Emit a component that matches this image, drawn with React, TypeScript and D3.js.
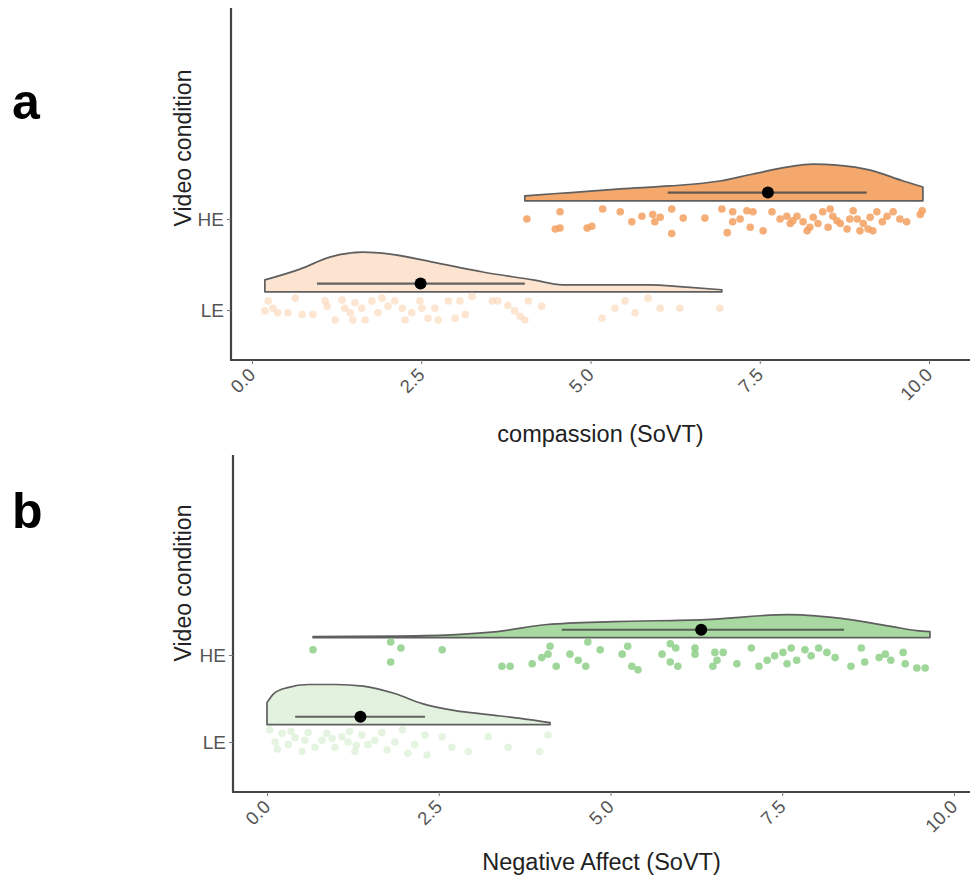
import React, { useEffect, useRef } from 'react'
import * as d3 from 'd3'

const conditions = ['HE', 'LE']
const xTicks = [0, 2.5, 5, 7.5, 10]

// panel a: compassion — raw points [score, jitter]
const compPointsHE = [
  [4.06, 0.0], [4.55, -0.08], [4.48, 0.11], [4.55, 0.1], [4.95, 0.1], [5.02, 0.08], [5.18, -0.11], [5.44, -0.08],
  [5.61, 0.03], [5.76, -0.03], [5.92, -0.05], [5.95, 0.03], [6.03, -0.02], [6.2, -0.11], [6.2, 0.16], [6.37, -0.01],
  [6.69, -0.01], [6.94, -0.11], [7.02, 0.15], [7.1, 0.03], [7.1, -0.08], [7.21, 0.0], [7.31, -0.09], [7.4, -0.08],
  [7.36, 0.09], [7.55, 0.13], [7.68, -0.08], [7.8, 0.0], [7.9, -0.03], [7.95, 0.05], [7.99, 0.02], [8.05, -0.03],
  [8.14, 0.03], [8.2, 0.13], [8.24, 0.09], [8.29, -0.02], [8.36, 0.05], [8.43, -0.08], [8.51, 0.09], [8.54, -0.11],
  [8.58, -0.03], [8.64, 0.02], [8.69, 0.05], [8.79, 0.11], [8.83, 0.0], [8.88, -0.09], [8.94, 0.0], [8.98, 0.13],
  [9.03, 0.05], [9.1, 0.11], [9.13, -0.02], [9.17, 0.13], [9.23, -0.08], [9.31, 0.03], [9.38, -0.03], [9.47, -0.08],
  [9.57, 0.0], [9.67, 0.03], [9.87, -0.05], [9.9, -0.09],
]
const compPointsLE = [
  [0.24, -0.1], [0.31, -0.02], [0.38, 0.03], [0.19, 0.01], [0.53, 0.03], [0.64, -0.13], [0.74, 0.05], [0.9, 0.05],
  [1.08, -0.1], [1.11, -0.04], [1.23, 0.11], [1.33, -0.11], [1.37, -0.02], [1.45, 0.03], [1.49, 0.11], [1.52, -0.08],
  [1.62, -0.02], [1.67, 0.11], [1.77, -0.1], [1.86, 0.03], [1.92, -0.13], [2.01, -0.04], [2.11, -0.1], [2.22, -0.02],
  [2.26, 0.11], [2.36, 0.03], [2.48, -0.1], [2.51, -0.02], [2.6, 0.09], [2.7, -0.02], [2.75, 0.11], [2.9, -0.1],
  [3.0, 0.09], [3.07, -0.1], [3.15, 0.05], [3.25, -0.15], [3.55, -0.1], [3.63, -0.1], [3.78, -0.05], [3.88, 0.01],
  [3.96, 0.07], [4.03, 0.11], [4.08, -0.1], [4.28, -0.04], [5.17, 0.09], [5.36, -0.02], [5.51, -0.1], [5.66, 0.03],
  [5.85, -0.13], [6.03, -0.02], [6.32, -0.02], [6.91, -0.02],
]
// density outlines [score, density]
const compDensHE = [
  [4.03, 0.034], [4.5, 0.05], [5.0, 0.066], [5.44, 0.082], [6.17, 0.102], [6.91, 0.136], [7.4, 0.184], [7.9, 0.231],
  [8.29, 0.252], [8.64, 0.245], [9.13, 0.211], [9.62, 0.136], [9.91, 0.095],
]
const compDensLE = [
  [0.19, 0.082], [0.71, 0.156], [1.15, 0.238], [1.64, 0.272], [2.04, 0.259], [2.67, 0.204], [3.41, 0.136],
  [4.15, 0.082], [4.59, 0.048], [5.14, 0.048], [5.88, 0.048], [6.37, 0.034], [6.94, 0.014],
]
// [lower, mean, upper]
const compMeanHE = [6.14, 7.62, 9.08]
const compMeanLE = [0.96, 2.49, 4.03]

// panel b: negative affect
const negPointsHE = [
  [0.67, -0.06], [1.8, -0.15], [1.95, -0.08], [1.8, 0.08], [2.55, -0.06], [3.42, 0.13], [3.54, 0.13], [3.86, 0.1],
  [4.0, 0.03], [4.09, -0.01], [4.12, -0.1], [4.21, 0.13], [4.41, -0.01], [4.53, 0.06], [4.64, 0.13], [4.85, -0.06],
  [4.67, -0.15], [5.17, -0.01], [5.25, -0.1], [5.31, 0.13], [5.4, 0.17], [5.75, -0.01], [5.87, -0.13], [5.95, -0.08],
  [5.87, 0.08], [5.98, 0.13], [6.23, -0.08], [6.23, -0.01], [6.52, -0.03], [6.55, 0.06], [6.49, 0.13], [6.64, -0.03],
  [6.84, 0.1], [7.05, -0.08], [7.16, 0.13], [7.28, 0.06], [7.39, 0.01], [7.51, -0.03], [7.57, 0.1], [7.63, -0.08],
  [7.71, 0.06], [7.83, -0.06], [7.92, 0.01], [8.03, -0.08], [8.15, -0.03], [8.27, 0.03], [8.5, 0.13], [8.65, -0.08],
  [8.7, 0.08], [8.91, 0.03], [9.0, -0.01], [9.08, 0.06], [9.26, -0.03], [9.29, 0.1], [9.46, 0.15], [9.58, 0.15],
]
const negPointsLE = [
  [0.04, -0.14], [0.12, 0.0], [0.22, -0.1], [0.31, 0.03], [0.41, -0.05], [0.51, 0.11], [0.6, -0.11], [0.8, -0.02],
  [0.87, -0.1], [0.99, 0.06], [1.09, -0.06], [1.18, 0.0], [1.28, 0.11], [1.38, -0.08], [1.47, 0.03], [1.57, -0.02],
  [1.67, -0.11], [1.75, 0.09], [1.86, 0.0], [1.97, -0.14], [2.05, 0.13], [2.15, 0.03], [2.3, -0.08], [2.33, 0.15],
  [2.55, -0.06], [2.69, 0.06], [2.93, 0.11], [3.22, -0.06], [3.51, 0.06], [3.97, 0.11], [4.09, -0.08],
  [0.15, 0.08], [0.35, -0.12], [0.7, 0.06], [0.95, -0.04], [1.2, -0.12], [1.3, 0.04], [0.55, -0.02],
]
const negDensHE = [
  [0.67, 0.007], [1.85, 0.011], [2.75, 0.022], [3.35, 0.043], [4.08, 0.094], [5.05, 0.115], [6.38, 0.129],
  [7.58, 0.165], [8.49, 0.129], [9.1, 0.079], [9.46, 0.05], [9.65, 0.043],
]
const negDensLE = [
  [0.0, 0.158], [0.1, 0.223], [0.3, 0.266], [0.6, 0.288], [1.0, 0.288], [1.4, 0.277], [1.86, 0.223], [2.26, 0.151],
  [2.74, 0.101], [3.22, 0.072], [3.71, 0.043], [4.12, 0.014],
]
const negMeanHE = [4.29, 6.32, 8.4]
const negMeanLE = [0.41, 1.36, 2.3]

const font = 'Liberation Sans, Arial, sans-serif'

const panels = [
  {
    tag: 'a', xTitle: 'compassion (SoVT)',
    left: 231, right: 970, top: 8, bottom: 360, xRange: [252, 929], yRange: [219, 310],
    tagY: 119, xTitleY: 442, yTitleY: 148,
    fills: ['#F5A86B', '#FCE4D0'], dots: ['#F4A060', '#FAD3B2'], dotAlpha: [0.85, 0.6],
    points: [compPointsHE, compPointsLE], dens: [compDensHE, compDensLE], means: [compMeanHE, compMeanLE],
  },
  {
    tag: 'b', xTitle: 'Negative Affect (SoVT)',
    left: 233, right: 970, top: 455, bottom: 792, xRange: [267, 954], yRange: [655, 742],
    tagY: 528, xTitleY: 870, yTitleY: 583,
    fills: ['#A8D9A0', '#E2F2DE'], dots: ['#8ECF88', '#D3ECCD'], dotAlpha: [0.85, 0.6],
    points: [negPointsHE, negPointsLE], dens: [negDensHE, negDensLE], means: [negMeanHE, negMeanLE],
  },
]

const App = () => {
  const svgRef = useRef(null)

  useEffect(() => {
    const svg = d3.select(svgRef.current)
    svg.selectAll('*').remove()

    panels.forEach((p) => {
      const g = svg.append('g')
      const x = d3.scaleLinear().domain([0, 10]).range(p.xRange)
      const y = d3.scalePoint().domain(conditions).range(p.yRange)
      const step = p.yRange[1] - p.yRange[0]

      conditions.forEach((c, i) => {
        const base = y(c) - 0.2 * step
        const area = d3
          .area()
          .x((d) => x(d[0]))
          .y0(base)
          .y1((d) => base - d[1] * 1.6 * step)
          .curve(d3.curveMonotoneX)
        g.append('path')
          .attr('d', area(p.dens[i]))
          .attr('fill', p.fills[i])
          .attr('stroke', '#5f5f5f')
          .attr('stroke-width', 1.7)
          .attr('stroke-linejoin', 'round')

        g.selectAll(null)
          .data(p.points[i])
          .enter()
          .append('circle')
          .attr('cx', (d) => x(d[0]))
          .attr('cy', (d) => y(c) + d[1] * step)
          .attr('r', 3.8)
          .attr('fill', p.dots[i])
          .attr('opacity', p.dotAlpha[i])

        const m = p.means[i]
        const my = y(c) - 0.29 * step
        g.append('line')
          .attr('x1', x(m[0]))
          .attr('x2', x(m[2]))
          .attr('y1', my)
          .attr('y2', my)
          .attr('stroke', '#4a4a4a')
          .attr('stroke-opacity', 0.85)
          .attr('stroke-width', 2.2)
        g.append('circle').attr('cx', x(m[1])).attr('cy', my).attr('r', 6).attr('fill', '#000')
      })

      // axes
      g.append('line')
        .attr('x1', p.left).attr('x2', p.left).attr('y1', p.top).attr('y2', p.bottom)
        .attr('stroke', '#444').attr('stroke-width', 2.2)
      g.append('line')
        .attr('x1', p.left - 1).attr('x2', p.right).attr('y1', p.bottom).attr('y2', p.bottom)
        .attr('stroke', '#444').attr('stroke-width', 2.2)

      const xAxis = g
        .append('g')
        .attr('transform', `translate(0,${p.bottom})`)
        .call(d3.axisBottom(x).tickValues(xTicks).tickFormat(d3.format('.1f')).tickSize(4))
      xAxis.select('.domain').remove()
      xAxis.selectAll('line').attr('stroke', '#777')
      xAxis
        .selectAll('text')
        .attr('font-family', font)
        .attr('font-size', 18.5)
        .attr('fill', '#555')
        .attr('text-anchor', 'end')
        .attr('dy', null)
        .attr('y', 0)
        .attr('transform', 'translate(4,16) rotate(-45)')

      const yAxis = g
        .append('g')
        .attr('transform', `translate(${p.left},0)`)
        .call(d3.axisLeft(y).tickSize(4).tickPadding(3))
      yAxis.select('.domain').remove()
      yAxis.selectAll('line').attr('stroke', '#777')
      yAxis.selectAll('text').attr('font-family', font).attr('font-size', 19).attr('fill', '#555')

      g.append('text')
        .attr('x', (p.left + p.right) / 2)
        .attr('y', p.xTitleY)
        .attr('text-anchor', 'middle')
        .attr('font-family', font)
        .attr('font-size', 23.5)
        .attr('fill', '#222')
        .text(p.xTitle)

      g.append('text')
        .attr('transform', `translate(191,${p.yTitleY}) rotate(-90)`)
        .attr('text-anchor', 'middle')
        .attr('font-family', font)
        .attr('font-size', 23)
        .attr('fill', '#222')
        .text('Video condition')

      g.append('text')
        .attr('x', 12)
        .attr('y', p.tagY)
        .attr('font-family', font)
        .attr('font-weight', 'bold')
        .attr('font-size', 50)
        .attr('fill', '#000')
        .text(p.tag)
    })
  }, [])

  return (
    <div style={{ position: 'absolute', left: 0, top: 0 }}>
      <svg ref={svgRef} width={974} height={875} style={{ display: 'block', background: '#fff' }}></svg>
    </div>
  )
}

export default App
